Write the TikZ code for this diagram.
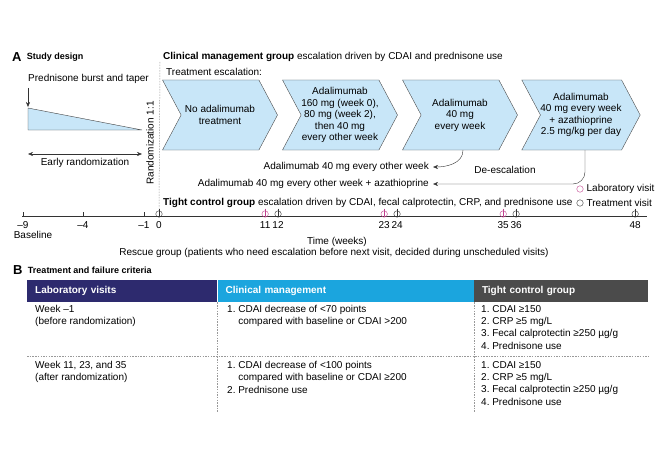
\documentclass[tikz,border=0pt]{standalone}
\usepackage{fontspec}
\setmainfont{Liberation Sans}
\usetikzlibrary{positioning,shapes.symbols,arrows.meta}
\definecolor{chevblue}{HTML}{C8E6F8}
\definecolor{labpink}{HTML}{C2418F}
\definecolor{hdnavy}{HTML}{2D2A6E}
\definecolor{hdcyan}{HTML}{1BA5DE}
\definecolor{hdgray}{HTML}{4B4B4B}
\tikzset{
  chev/.style={signal, signal to=east, signal from=west, signal pointer angle=124, draw=black!70, fill=chevblue, minimum width=115pt, minimum height=70pt, inner sep=0pt, align=center, font=\fontsize{10}{11.5}\selectfont},
  txt/.style={inner sep=0pt, font=\fontsize{10}{12}\selectfont},
  panel/.style={inner sep=0pt, font=\bfseries\fontsize{9}{11}\selectfont},
  letter/.style={inner sep=0pt, font=\bfseries\fontsize{13}{13}\selectfont},
  visit/.style={circle, draw=black!80, inner sep=0pt, minimum size=6.5pt},
  labvisit/.style={visit, draw=labpink},
  arr/.style={-{Stealth[length=5pt,width=4pt]}, black!80},
  hdcell/.style={anchor=north west, minimum height=22pt, inner xsep=8pt, inner ysep=0pt, text height=7.5pt, text depth=2pt, text=white, align=left, font=\bfseries\fontsize{10}{12}\selectfont},
  cell/.style={anchor=north west, inner sep=0pt, align=left, font=\fontsize{10}{12.3}\selectfont},
  sep/.style={dash pattern=on 1.5pt off 1.2pt, black!40, line width=0.5pt}
}
\begin{document}
\begin{tikzpicture}[x=1pt,y=-1pt]
\useasboundingbox (0,0) rectangle (670,460);
\node[letter, anchor=west] (pa) at (12,57) {A};
\node[panel, right=5pt of pa] (pastudy) {Study design};
\node[txt, anchor=west] (clin) at (163,57) {\textbf{Clinical management group} escalation driven by CDAI and prednisone use};
\node[txt, anchor=west] (escal) at (166,72) {Treatment escalation:};
\node[txt, anchor=west] (pred) at (28,79) {Prednisone burst and taper};
\coordinate (tritop) at (28,108);
\coordinate (tribot) at (28,130);
\coordinate (tritip) at (142,130);
\draw[fill=chevblue, draw=black!75] (tritop) -- (tritip) -- (tribot) -- cycle;
\draw[arr, shorten <=4pt, shorten >=1pt] (pred.south west) -- (tritop);
\coordinate (erl) at (28,154);
\coordinate (err) at (142,154);
\draw[{Stealth[length=5pt,width=4pt]}-{Stealth[length=5pt,width=4pt]}, black!80] (erl) -- (err);
\node[txt] (early) at (85,163) {Early randomization};
\node[txt, rotate=90] (rand) at (150,143) {Randomization 1:1};
\node[chev] (c1) at (220,115) {No adalimumab\\treatment};
\node[chev] (c2) at (340,115) {Adalimumab\\160 mg (week 0),\\80 mg (week 2),\\then 40 mg\\every other week};
\node[chev] (c3) at (460,115) {Adalimumab\\40 mg\\every week};
\node[chev] (c4) at (581,115) {Adalimumab\\40 mg every week\\+ azathioprine\\2.5 mg/kg per day};
\node[txt, anchor=east] (deada) at (429,167) {Adalimumab 40 mg every other week};
\node[txt, anchor=east] (deaza) at (429,184) {Adalimumab 40 mg every other week + azathioprine};
\node[txt] (deesc) at (505,170) {De-escalation};
\draw[arr] ([xshift=3pt]c3.south) to[out=-90,in=0] ([xshift=4pt]deada.east);
\draw[arr, rounded corners=12pt] ([xshift=4pt]c4.south) |- ([xshift=4pt]deaza.east);
\node[txt, anchor=west] (tight) at (163,203) {\textbf{Tight control group} escalation driven by CDAI, fecal calprotectin, CRP, and prednisone use};
\node[labvisit] (leglab) at (580,189) {};
\node[txt, right=3pt of leglab] (leglabtxt) {Laboratory visit};
\node[visit] (legtrt) at (580,203) {};
\node[txt, right=3pt of legtrt] (legtrttxt) {Treatment visit};
\coordinate (ax0) at (22,216.5);
\coordinate (ax1) at (647,216.5);
\draw[black!80] (ax0) -- (ax1);
\foreach \x/\lab in {23/{–9},83/{–4},144/{–1}} {
  \draw[black!80] (\x,212) -- (\x,216.5);
  \node[txt] at (\x,225.5) {\lab};
}
\foreach \w in {0,12,24,36,48} {
  \node[visit] (tv\w) at ({159+9.92*\w},214) {};
  \draw[black!80] ([yshift=2pt]tv\w.north) -- (tv\w.center |- ax0);
  \node[txt] at ({159+9.92*\w},225.5) {\w};
}
\foreach \w in {11,23,35} {
  \node[labvisit] (lv\w) at ({156+9.92*\w},214) {};
  \draw[labpink] ([yshift=2pt]lv\w.north) -- (lv\w.center |- ax0);
  \node[txt] at ({156+9.92*\w},225.5) {\w};
}
\coordinate (randtop) at (160,62);
\draw[sep] (randtop) -- ([yshift=2pt]tv0.north);
\node[txt] (baseline) at (33,235) {Baseline};
\node[txt] (time) at (337,242) {Time (weeks)};
\node[txt] (rescue) at (334,253) {Rescue group (patients who need escalation before next visit, decided during unscheduled visits)};
\node[letter, anchor=west] (pb) at (13,270) {B};
\node[panel, right=5pt of pb] (pbtreat) {Treatment and failure criteria};
\node[hdcell, fill=hdnavy, text width=174pt] (h1) at (27,280) {Laboratory visits};
\node[hdcell, fill=hdcyan, text width=240pt, right=0pt of h1] (h2) {Clinical management};
\node[hdcell, fill=hdgray, text width=158pt, right=0pt of h2] (h3) {Tight control group};
\coordinate (tblbot) at (0,412);
\coordinate (rowsep) at (0,356);
\draw[sep] (h1.west |- rowsep) -- (h3.east |- rowsep);
\draw[sep] (h2.south west) -- (h2.west |- tblbot);
\draw[sep] (h3.south west) -- (h3.west |- tblbot);
\node[cell] (r1a) at (35,305) {Week –1\\(before randomization)};
\node[cell] (r1b) at (227,305) {1.\ CDAI decrease of <70 points\\\phantom{1.\ }compared with baseline or CDAI >200};
\node[cell] (r1c) at (481,305) {1.\ CDAI ≥150\\2.\ CRP ≥5 mg/L\\3.\ Fecal calprotectin ≥250 µg/g\\4.\ Prednisone use};
\node[cell] (r2a) at (35,361) {Week 11, 23, and 35\\(after randomization)};
\node[cell] (r2b) at (227,361) {1.\ CDAI decrease of <100 points\\\phantom{1.\ }compared with baseline or CDAI ≥200\\2.\ Prednisone use};
\node[cell] (r2c) at (481,361) {1.\ CDAI ≥150\\2.\ CRP ≥5 mg/L\\3.\ Fecal calprotectin ≥250 µg/g\\4.\ Prednisone use};
\end{tikzpicture}
\end{document}
